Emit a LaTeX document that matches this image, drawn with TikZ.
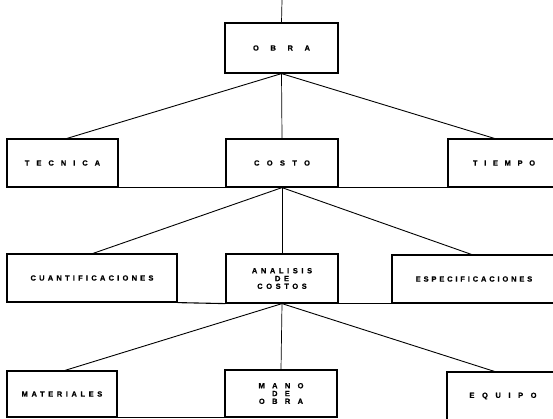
\documentclass[tikz,border=0pt]{standalone}
\usepackage{fontspec}
\newfontfamily\labfont{Liberation Sans}
\begin{document}
\begin{tikzpicture}[x=1pt,y=-1pt,
  box/.style={draw=black,line width=1.2pt,inner sep=0pt,align=center},
  ls/.style={font=\labfont\fontsize{7.5}{7.8}\selectfont\bfseries\addfontfeatures{LetterSpace=#1,FakeBold=0.6}},
  conn/.style={line width=0.9pt},
  vconn/.style={line width=0.7pt},
  base/.style={line width=1.1pt}]
\useasboundingbox (0,0) rectangle (553,418);
\clip (0,0) rectangle (553,418);
% row 1
\node[box,ls=155,minimum width=113pt,minimum height=50pt] (obra) at (281.5,48) {OBRA};
\coordinate (top) at (282,0);
% row 2
\node[box,ls=93,minimum width=111pt,minimum height=48pt] (tecnica) at (62.5,163) {TECNICA};
\node[box,ls=98,minimum width=112pt,minimum height=48pt] (costo) at (282,163) {COSTO};
\node[box,ls=89,minimum width=112pt,minimum height=48pt] (tiempo) at (504,163) {TIEMPO};
% row 3
\node[box,ls=43,minimum width=170pt,minimum height=48pt] (cuant) at (92,278) {CUANTIFICACIONES};
\node[box,ls=48,minimum width=112pt,minimum height=49pt] (analisis) at (282,278.5) {ANALISIS\\DE\\COSTOS};
\node[box,ls=38,minimum width=164pt,minimum height=48pt] (espec) at (474,279) {ESPECIFICACIONES};
% row 4
\node[box,ls=48,minimum width=110pt,minimum height=46pt] (materiales) at (62,394) {MATERIALES};
\node[box,ls=98,minimum width=112pt,minimum height=47pt] (mano) at (281,393.5) {MANO\\DE\\OBRA};
\node[box,ls=101,minimum width=112pt,minimum height=48pt] (equipo) at (503,396) {EQUIPO};
% connectors
\draw[vconn] (top) -- (obra.north);
\draw[conn] (obra.south) -- ([xshift=4.5pt]tecnica.north);
\draw[vconn] (obra.south) -- (costo.north);
\draw[conn] (obra.south) -- ([xshift=47pt]tiempo.north west);
\draw[conn] (costo.south) -- ([xshift=1pt]cuant.north);
\draw[vconn] (costo.south) -- (analisis.north);
\draw[conn] (costo.south) -- ([xshift=80pt]espec.north west);
\draw[conn] (analisis.south) -- ([xshift=3pt]materiales.north);
\draw[vconn] (analisis.south) -- (mano.north);
\draw[conn] (analisis.south) -- ([xshift=48pt]equipo.north west);
% baselines
\draw[base] (tecnica.south east) -- (costo.south west);
\draw[base] (costo.south east) -- (tiempo.south west);
\draw[base] (cuant.south east) -- (analisis.south west);
\draw[base] (analisis.south east) -- (espec.south west);
\draw[base] (materiales.south east) -- (mano.south west);
\end{tikzpicture}
\end{document}
